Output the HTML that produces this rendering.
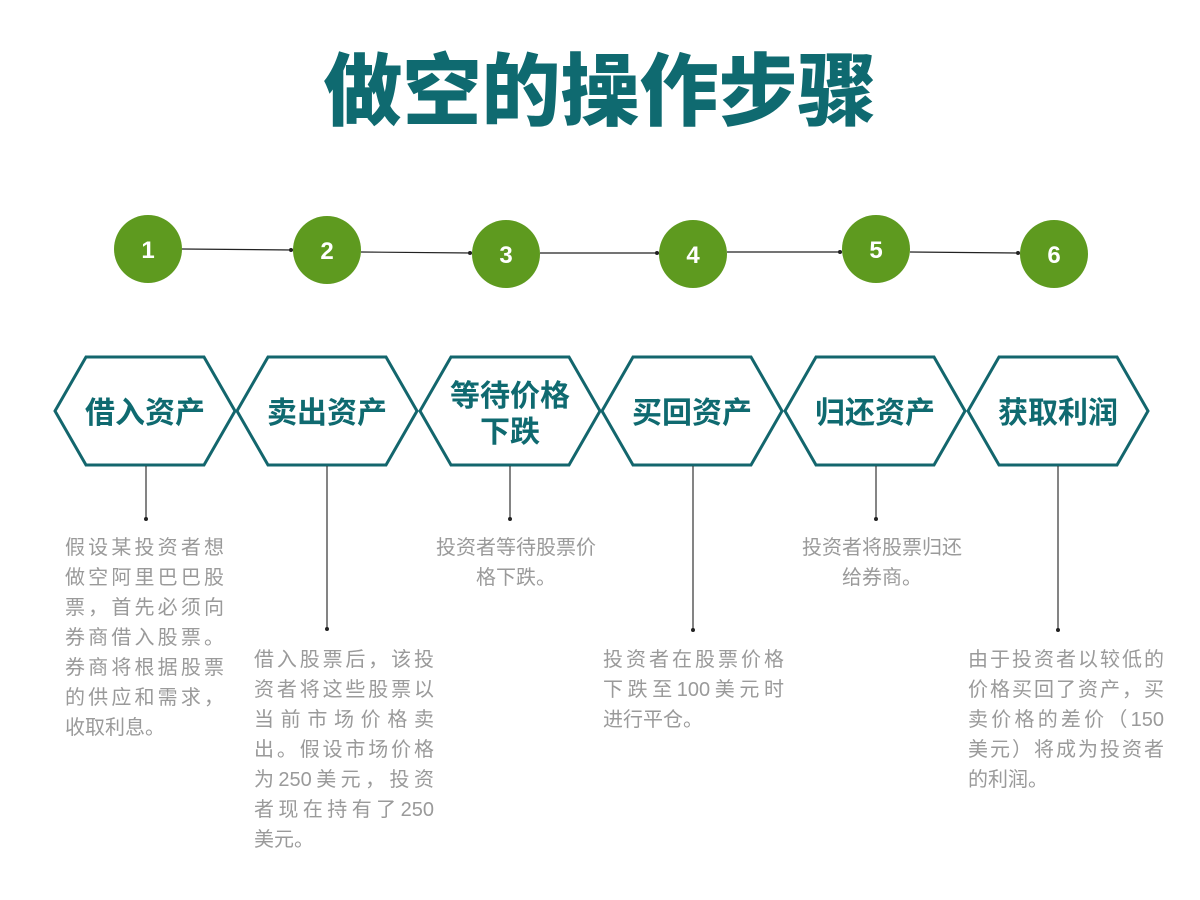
<!DOCTYPE html>
<html><head><meta charset="utf-8"><style>
body{margin:0;width:1200px;height:900px;background:#fff;position:relative;overflow:hidden;font-family:"Liberation Sans","Noto Sans CJK SC",sans-serif}
svg{position:absolute;left:0;top:0}
.t{position:absolute;color:#9a9a9a;font-size:20px;line-height:30px;font-family:"Liberation Sans","Noto Sans CJK SC",sans-serif}
.t div{text-align:justify;text-align-last:justify;height:30px}
.t div.l{text-align-last:left}
.c{text-align:center}
.c div{text-align:center;text-align-last:center}
.h{position:absolute;color:#0f6a70;font-weight:bold;font-size:30px;line-height:36px;text-align:center;font-family:"Noto Sans CJK SC",sans-serif}
</style></head><body>
<svg width="1200" height="900">
<text x="600" y="119" text-anchor="middle" font-family="Noto Sans CJK SC,sans-serif" font-weight="900" font-size="79" fill="#0f6a70">做空的操作步骤</text>
<g stroke="#222" stroke-width="1.2">
<line x1="182" y1="249" x2="293" y2="250"/><line x1="361" y1="252" x2="472" y2="253"/>
<line x1="540" y1="253" x2="659" y2="253"/><line x1="727" y1="252" x2="842" y2="252"/>
<line x1="910" y1="252" x2="1020" y2="253"/>
</g>
<g fill="#222"><circle cx="291" cy="250" r="2"/><circle cx="470" cy="253" r="2"/><circle cx="657" cy="253" r="2"/><circle cx="840" cy="252" r="2"/><circle cx="1018" cy="253" r="2"/></g>
<g fill="#5e9a1f">
<circle cx="148" cy="249" r="34"/><circle cx="327" cy="250" r="34"/><circle cx="506" cy="254" r="34"/>
<circle cx="693" cy="254" r="34"/><circle cx="876" cy="249" r="34"/><circle cx="1054" cy="254" r="34"/>
</g>
<g fill="#fff" font-family="Liberation Sans,sans-serif" font-weight="bold" font-size="24" text-anchor="middle">
<text x="148" y="258">1</text><text x="327" y="259">2</text><text x="506" y="263">3</text>
<text x="693" y="263">4</text><text x="876" y="258">5</text><text x="1054" y="263">6</text>
</g>
<g fill="none" stroke="#13666d" stroke-width="3">
<polygon points="55,411 86,357 204,357 235,411 204,465 86,465"/>
<polygon points="237,411 268,357 386,357 417,411 386,465 268,465"/>
<polygon points="420,411 451,357 569,357 600,411 569,465 451,465"/>
<polygon points="602,411 633,357 751,357 782,411 751,465 633,465"/>
<polygon points="785,411 816,357 934,357 965,411 934,465 816,465"/>
<polygon points="968,411 999,357 1117,357 1148,411 1117,465 999,465"/>
</g>
<g stroke="#333" stroke-width="1.2">
<line x1="146" y1="466" x2="146" y2="519"/><line x1="327" y1="466" x2="327" y2="629"/>
<line x1="510" y1="466" x2="510" y2="519"/><line x1="693" y1="466" x2="693" y2="630"/>
<line x1="876" y1="466" x2="876" y2="519"/><line x1="1058" y1="466" x2="1058" y2="630"/>
</g>
<g fill="#222"><circle cx="146" cy="519" r="2"/><circle cx="327" cy="629" r="2"/><circle cx="510" cy="519" r="2"/><circle cx="693" cy="630" r="2"/><circle cx="876" cy="519" r="2"/><circle cx="1058" cy="630" r="2"/></g>
</svg>
<div class="h" style="left:55px;top:392px;width:180px">借入资产</div>
<div class="h" style="left:237px;top:392px;width:180px">卖出资产</div>
<div class="h" style="left:436px;top:375px;width:148px">等待价格<br>下跌</div>
<div class="h" style="left:602px;top:392px;width:180px">买回资产</div>
<div class="h" style="left:785px;top:392px;width:180px">归还资产</div>
<div class="h" style="left:968px;top:392px;width:180px">获取利润</div>

<div class="t" style="left:65px;top:533px;width:159px">
<div>假设某投资者想</div><div>做空阿里巴巴股</div><div>票，首先必须向</div><div>券商借入股票。</div><div>券商将根据股票</div><div>的供应和需求，</div><div class="l">收取利息。</div></div>
<div class="t" style="left:254px;top:645px;width:180px">
<div>借入股票后，该投</div><div>资者将这些股票以</div><div>当前市场价格卖</div><div>出。假设市场价格</div><div>为250美元，投资</div><div>者现在持有了250</div><div class="l">美元。</div></div>
<div class="t c" style="left:416px;top:533px;width:200px"><div>投资者等待股票价</div><div>格下跌。</div></div>
<div class="t" style="left:603px;top:645px;width:181px">
<div>投资者在股票价格</div><div>下跌至100美元时</div><div class="l">进行平仓。</div></div>
<div class="t c" style="left:782px;top:533px;width:200px"><div>投资者将股票归还</div><div>给券商。</div></div>
<div class="t" style="left:968px;top:645px;width:196px">
<div>由于投资者以较低的</div><div>价格买回了资产，买</div><div>卖价格的差价（150</div><div>美元）将成为投资者</div><div class="l">的利润。</div></div>
</body></html>
